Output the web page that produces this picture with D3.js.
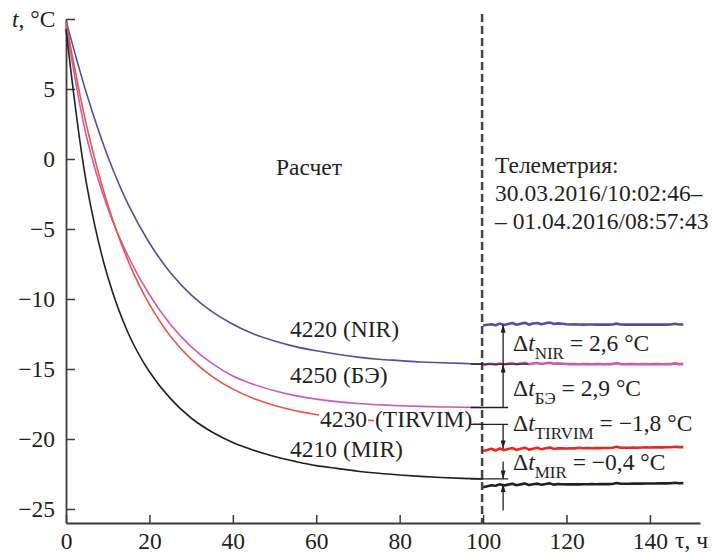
<!DOCTYPE html>
<html>
<head>
<meta charset="utf-8">
<script src="https://cdn.jsdelivr.net/npm/d3@7"></script>
<style>
body { margin: 0; background: #fff; }
svg text { font-family: "Liberation Serif", "Times New Roman", Times, "DejaVu Serif", serif; fill: #231f20; }
</style>
</head>
<body>
<svg id="chart" width="718" height="555"></svg>
<script>
// calculated curves, hours 0..100
const calcT = [0, 5, 10, 15, 20, 25, 30, 35, 40, 45, 50, 55, 60, 65, 70, 75, 80, 85, 90, 95, 100];
const calcNIR = [9.9, 4.6, 0.2, -3.3, -6.0, -8.1, -9.7, -10.9, -11.8, -12.5, -13.0, -13.4, -13.7, -13.95, -14.15, -14.3, -14.4, -14.5, -14.55, -14.6, -14.65];
const calcBE = [9.6, 1.5, -3.5, -7.0, -9.7, -11.8, -13.4, -14.6, -15.5, -16.1, -16.55, -16.9, -17.15, -17.33, -17.46, -17.55, -17.62, -17.67, -17.71, -17.73, -17.75];
const calcTIRVIM = [9.8, 2.3, -3.25, -7.35, -10.39, -12.64, -14.3, -15.53, -16.44, -17.11, -17.61, -17.98, -18.25, -18.45, -18.6, -18.71, -18.79, -18.85, -18.9, -18.93, -18.95];
const calcMIR = [9.3, -1.9, -8.4, -12.5, -15.2, -17.1, -18.5, -19.5, -20.25, -20.8, -21.25, -21.6, -21.9, -22.1, -22.3, -22.45, -22.57, -22.67, -22.75, -22.81, -22.85];

// telemetry, hours 100..148
const telT = [100, 101, 102, 103, 104, 105, 106, 107, 108, 109,
              110, 111, 112, 113, 114, 115, 116, 117, 118, 119,
              120, 121, 122, 123, 124, 125, 126, 127, 128, 129,
              130, 131, 132, 133, 134, 135, 136, 137, 138, 139,
              140, 141, 142, 143, 144, 145, 146, 147, 148];
const telNIR = [-11.90, -11.84, -11.80, -11.88, -11.76, -11.86, -11.79, -11.72, -11.84, -11.77,
                -11.70, -11.83, -11.75, -11.71, -11.81, -11.73, -11.68, -11.79, -11.74, -11.77,
                -11.80, -11.82, -11.81, -11.82, -11.83, -11.82, -11.82, -11.83, -11.83, -11.82,
                -11.83, -11.82, -11.76, -11.82, -11.83, -11.83, -11.82, -11.83, -11.83, -11.82,
                -11.83, -11.83, -11.82, -11.83, -11.83, -11.82, -11.77, -11.82, -11.82];
const telBE = [-14.72, -14.66, -14.62, -14.70, -14.60, -14.68, -14.63, -14.58, -14.67, -14.61,
               -14.56, -14.66, -14.60, -14.57, -14.64, -14.59, -14.55, -14.63, -14.60, -14.62,
               -14.64, -14.65, -14.65, -14.66, -14.65, -14.65, -14.66, -14.65, -14.65, -14.66,
               -14.65, -14.65, -14.58, -14.65, -14.66, -14.65, -14.65, -14.66, -14.65, -14.65,
               -14.66, -14.65, -14.65, -14.66, -14.65, -14.65, -14.60, -14.65, -14.65];
const telTIRVIM = [-20.85, -20.78, -20.70, -20.82, -20.68, -20.80, -20.72, -20.64, -20.78, -20.70,
                   -20.62, -20.76, -20.69, -20.63, -20.74, -20.66, -20.60, -20.72, -20.67, -20.66,
                   -20.68, -20.66, -20.67, -20.62, -20.66, -20.65, -20.66, -20.64, -20.65, -20.64,
                   -20.64, -20.63, -20.55, -20.63, -20.62, -20.62, -20.61, -20.62, -20.61, -20.60,
                   -20.61, -20.60, -20.60, -20.60, -20.59, -20.59, -20.55, -20.58, -20.58];
const telMIR = [-23.45, -23.38, -23.30, -23.34, -23.24, -23.32, -23.26, -23.20, -23.30, -23.24,
                -23.18, -23.29, -23.23, -23.19, -23.27, -23.22, -23.17, -23.26, -23.22, -23.23,
                -23.24, -23.24, -23.23, -23.24, -23.23, -23.23, -23.22, -23.23, -23.22, -23.22,
                -23.22, -23.21, -23.14, -23.20, -23.20, -23.20, -23.19, -23.19, -23.19, -23.18,
                -23.18, -23.18, -23.17, -23.17, -23.17, -23.16, -23.12, -23.16, -23.15];

// levels used by the delta arrows
const telLevel = [-11.82, -14.65, -20.7, -23.2];
const deltaNames = ["NIR", "БЭ", "TIRVIM", "MIR"];
const deltaValues = ["2,6", "2,9", "−1,8", "−0,4"];

const xTicks = [0, 20, 40, 60, 80, 100, 120, 140];
const yTicks = [-25, -20, -15, -10, -5, 0, 5, 10];

const FS = 23.5;
const svg = d3.select("#chart");
const x = d3.scaleLinear().domain([0, 152]).range([66, 700]);
const y = d3.scaleLinear().domain([-26, 10]).range([523, 19]);

const colNIR = "#4f4fa3", colBE = "#c95bb5", colTIR = "#e9573c", colTIRtel = "#e8291f", colMIR = "#231f20";

// axes
const yAxis = svg.append("g").attr("transform", "translate(66,0)")
    .call(d3.axisLeft(y).tickValues(yTicks).tickSizeInner(-9).tickSizeOuter(0).tickPadding(11)
        .tickFormat(d => d === 10 ? "" : (d < 0 ? "−" + Math.abs(d) : d)));
const xAxis = svg.append("g").attr("transform", "translate(0,523)")
    .call(d3.axisBottom(x).tickValues(xTicks).tickSizeInner(-8).tickSizeOuter(0).tickPadding(9));
[yAxis, xAxis].forEach(a => {
    a.attr("font-family", null);
    a.select(".domain").attr("stroke", "#3a3a3a").attr("stroke-width", 1.8);
    a.selectAll(".tick line").attr("stroke", "#3a3a3a").attr("stroke-width", 1.5);
    a.selectAll("text").attr("font-size", FS).attr("fill", "#231f20");
});

let yl = svg.append("text").attr("x", 12).attr("y", 27).attr("font-size", FS);
yl.append("tspan").attr("font-style", "italic").text("t");
yl.append("tspan").text(", °C");
svg.append("text").attr("x", 675).attr("y", 548).attr("font-size", FS).text("τ, ч");

// lines
const line = d3.line().x(d => x(d[0])).y(d => y(d[1])).curve(d3.curveCatmullRom.alpha(0.5));
const rough = d3.line().x(d => x(d[0])).y(d => y(d[1]));

function calcPath(vals, color) {
    svg.append("path").datum(d3.zip(calcT, vals))
        .attr("d", line).attr("fill", "none").attr("stroke", color).attr("stroke-width", 1.6);
}
function telPath(vals, color) {
    svg.append("path").datum(d3.zip(telT, vals))
        .attr("d", rough).attr("fill", "none").attr("stroke", color).attr("stroke-width", 2.6)
        .attr("stroke-linejoin", "round");
}
calcPath(calcNIR, colNIR);
calcPath(calcBE, colBE);
calcPath(calcTIRVIM, colTIR);
calcPath(calcMIR, colMIR);
telPath(telNIR, colNIR);
telPath(telBE, colBE);
telPath(telTIRVIM, colTIRtel);
telPath(telMIR, colMIR);

// dashed split line
svg.append("line").attr("x1", x(100) - 1).attr("x2", x(100) - 1).attr("y1", 14).attr("y2", 523)
    .attr("stroke", "#444").attr("stroke-width", 2.5).attr("stroke-dasharray", "8,4");

// curve labels
function label(txt, px, py) {
    return svg.append("text").attr("x", px).attr("y", py).attr("font-size", FS).text(txt);
}
label("Расчет", 276, 175);
label("4220 (NIR)", 290, 337);
label("4250 (БЭ)", 290, 383);
label("4210 (MIR)", 290, 457);

// TIRVIM label sits on its curve: white boxes behind the two words
function boxedLabel(txt, px, py) {
    const g = svg.append("g");
    const t = g.append("text").attr("x", px).attr("y", py).attr("font-size", FS).text(txt);
    const b = t.node().getBBox();
    g.insert("rect", "text").attr("x", b.x - 1).attr("y", b.y + 3).attr("width", b.width + 2)
        .attr("height", b.height - 5).attr("fill", "#fff");
    return b;
}
const b1 = boxedLabel("4230", 320, 427);
boxedLabel("(TIRVIM)", b1.x + b1.width + 8, 427);

// telemetry caption
label("Телеметрия:", 495, 173);
label("30.03.2016/10:02:46–", 495, 201);
label("– 01.04.2016/08:57:43", 495, 229);

// delta arrows
const defs = svg.append("defs");
defs.append("marker").attr("id", "arr").attr("viewBox", "0 0 10 6").attr("refX", 10).attr("refY", 3)
    .attr("markerWidth", 9).attr("markerHeight", 5).attr("markerUnits", "userSpaceOnUse")
    .attr("orient", "auto")
    .append("path").attr("d", "M0,0L10,3L0,6Z").attr("fill", "#231f20");

const calcEnd = [calcNIR, calcBE, calcTIRVIM, calcMIR].map(a => a[a.length - 1]);
const ax = x(104.8);
calcEnd.forEach((v, i) => {
    svg.append("line").attr("x1", x(97)).attr("x2", i === 0 ? x(110.8) : x(106))
        .attr("y1", y(v)).attr("y2", y(v)).attr("stroke", "#231f20").attr("stroke-width", 1.3);
    if (i < 3) {
        svg.append("line").attr("x1", ax).attr("x2", ax).attr("y1", y(v)).attr("y2", y(telLevel[i]))
            .attr("stroke", "#231f20").attr("stroke-width", 1.3).attr("marker-end", "url(#arr)");
    } else {
        svg.append("line").attr("x1", ax).attr("x2", ax).attr("y1", y(-21.6)).attr("y2", y(v))
            .attr("stroke", "#231f20").attr("stroke-width", 1.3).attr("marker-end", "url(#arr)");
        svg.append("line").attr("x1", ax).attr("x2", ax).attr("y1", y(-25.1)).attr("y2", y(telLevel[i]))
            .attr("stroke", "#231f20").attr("stroke-width", 1.3).attr("marker-end", "url(#arr)");
    }
});

const deltaY = [351, 396, 431, 470];
deltaNames.forEach((n, i) => {
    const t = svg.append("text").attr("x", 513).attr("y", deltaY[i]).attr("font-size", FS);
    t.append("tspan").text("Δ");
    t.append("tspan").attr("font-style", "italic").text("t");
    t.append("tspan").attr("dy", 8).attr("font-size", 17).text(n);
    t.append("tspan").attr("dy", -8).text(" = " + deltaValues[i] + " °C");
});
</script>
</body>
</html>
